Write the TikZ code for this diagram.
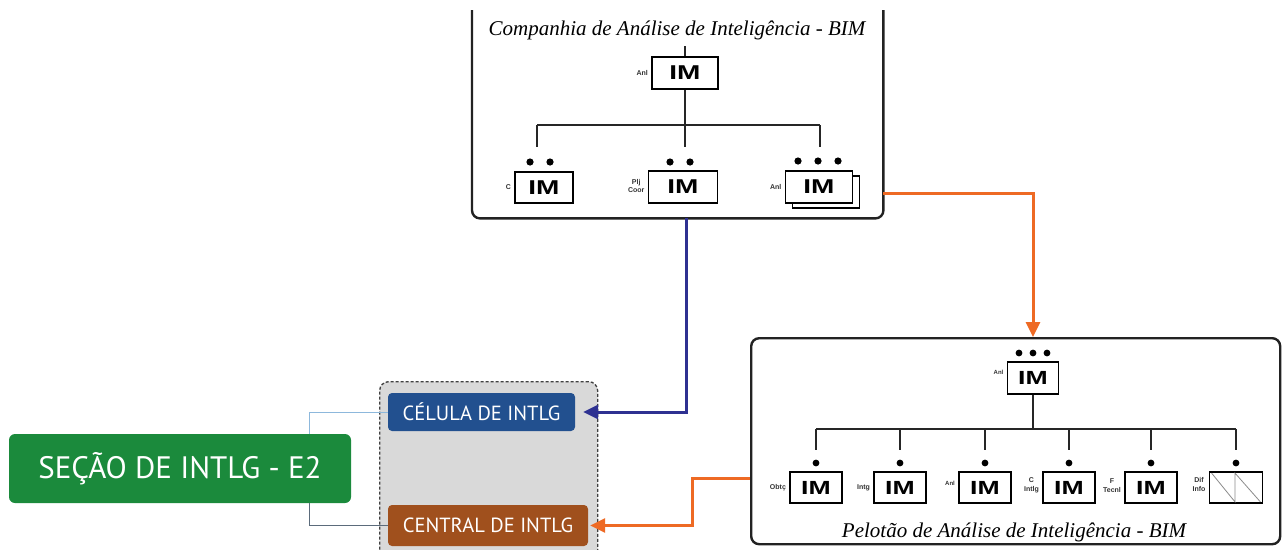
\documentclass[tikz,border=0pt]{standalone}
\usepackage{graphicx}
\usepackage{fontspec}
\setmainfont{Liberation Serif}
\newfontfamily\boxsans{Liberation Sans}
\newfontfamily\capsans{PT Sans}
\usetikzlibrary{arrows.meta,calc}

\definecolor{framec}{HTML}{222222}
\definecolor{tagc}{HTML}{333333}
\definecolor{arrblue}{HTML}{2E3191}
\definecolor{arrorange}{HTML}{EE6A24}
\definecolor{secgreen}{HTML}{1B8A3C}
\definecolor{celblue}{HTML}{22508F}
\definecolor{cenbrown}{HTML}{A0501D}
\definecolor{grpfill}{HTML}{D9D9D9}
\definecolor{linkblue}{HTML}{8DB8DC}
\definecolor{linkgray}{HTML}{5B6B7B}

\newcommand\imtext{\scalebox{1.4}[1]{IM}}

\begin{document}
\begin{tikzpicture}[x=1pt,y=-1pt,
  frame/.style={draw=framec, line width=2.4pt, rounded corners=8pt},
  imbox/.style={draw=black, line width=1.8pt, fill=white, inner sep=0pt,
    minimum width=#1, minimum height=31pt,
    font=\boxsans\bfseries\fontsize{20}{20}\selectfont},
  tag/.style={font=\boxsans\bfseries\fontsize{7}{7.5}\selectfont, text=tagc,
    align=center, inner sep=0pt, anchor=east},
  orgline/.style={draw=black!85, line width=1.3pt},
  ttl/.style={font=\itshape\fontsize{21}{21}\selectfont, text=black},
  arrowb/.style={draw=arrblue, line width=3pt, -{Triangle[length=15pt,width=14pt]}},
  arrowo/.style={draw=arrorange, line width=3pt, -{Triangle[length=15pt,width=14pt]}},
  unit/.style={rounded corners=4pt, inner sep=0pt, text=white,
    font=\capsans\fontsize{20.5}{20.5}\selectfont},
]
\useasboundingbox (0,0) rectangle (1282,549);

% ---------- Companhia de Análise de Inteligência ----------
\node (cia) [anchor=north west, minimum width=411pt, minimum height=208pt, inner sep=0pt] at (472,10) {};
\draw[frame] (cia.north west) -- (cia.south west) -- (cia.south east) -- (cia.north east);
\node (ciattl) [ttl] at (677,30) {Companhia de Análise de Inteligência - BIM};

\node (tanl) [imbox=66pt, minimum height=32pt] at (685,73) {\imtext};
\node [tag] at ([xshift=-3pt]tanl.west) {Anl};
\coordinate (ttop) at (685,46);
\draw[orgline] (ttop) -- (tanl.north);

\coordinate (tbus) at (685,125);
\coordinate (tbl) at (537,125);
\coordinate (tbr) at (820,125);
\draw[orgline] (tanl.south) -- (tbus);
\draw[orgline] (tbl) -- (tbr);
\draw[orgline] (tbl) -- ++(0,22);
\draw[orgline] (tbus) -- ++(0,22);
\draw[orgline] (tbr) -- ++(0,22);

\node (tc) [imbox=58pt] at (544,187.5) {\imtext};
\node [tag] at ([xshift=-3pt]tc.west) {C};
\fill (530,162) circle (3.6pt) (550,162) circle (3.6pt);

\node (tp) [imbox=69pt, minimum height=32pt] at (683,187) {\imtext};
\node [tag] at ([xshift=-3pt,yshift=1pt]tp.west) {Plj\\[1pt]Coor};
\fill (670,162) circle (3.6pt) (690,162) circle (3.6pt);

\node (tash) [imbox=67pt, minimum height=32pt] at (826,192) {};
\node (ta) [imbox=67pt, minimum height=32pt] at (819,187) {\imtext};
\node [tag] at ([xshift=-3pt]ta.west) {Anl};
\fill (798,161) circle (3.6pt) (818,161) circle (3.6pt) (838,161) circle (3.6pt);

% ---------- Pelotão de Análise de Inteligência ----------
\node (pel) [frame, anchor=north west, minimum width=529pt, minimum height=206pt, inner sep=0pt] at (750,337) {};
\node (pelttl) [ttl] at (1014,532) {Pelotão de Análise de Inteligência - BIM};

\node (panl) [imbox=51pt, minimum height=32pt, font=\boxsans\bfseries\fontsize{19}{19}\selectfont] at (1033,378) {\imtext};
\node [tag, font=\boxsans\bfseries\fontsize{6}{6.5}\selectfont] at ([xshift=-3pt,yshift=6pt]panl.west) {Anl};
\fill (1019,353) circle (3.4pt) (1033,353) circle (3.4pt) (1047,353) circle (3.4pt);

\coordinate (pbus) at (1033,429);
\coordinate (pbl) at (816,429);
\coordinate (pbr) at (1236,429);
\draw[orgline] (panl.south) -- (pbus);
\draw[orgline] (pbl) -- (pbr);
\foreach \x in {816,900,985,1069,1151,1236}{
  \draw[orgline] (\x,429) -- (\x,450);
  \fill (\x,463) circle (3.4pt);
}

\tikzset{pbox/.style={imbox=52pt, font=\boxsans\bfseries\fontsize{19}{19}\selectfont}}
\node (p1) [pbox] at (816,487.5) {\imtext};
\node (p2) [pbox] at (900,487.5) {\imtext};
\node (p3) [pbox] at (985,487.5) {\imtext};
\node (p4) [pbox] at (1069,487.5) {\imtext};
\node (p5) [pbox] at (1151,487.5) {\imtext};
\node (p6) [pbox, minimum width=53pt] at (1236,487.5) {};
\draw[draw=black!45, line width=0.8pt]
  ([shift={(3pt,-2pt)}]p6.north west) -- ([xshift=-1pt,yshift=2pt]p6.south) --
  ([xshift=-1pt,yshift=-2pt]p6.north) -- ([shift={(-3pt,2pt)}]p6.south east);

\node [tag] at ([xshift=-3pt]p1.west) {Obtç};
\node [tag] at ([xshift=-3pt]p2.west) {Intg};
\node [tag, font=\boxsans\bfseries\fontsize{6}{6.5}\selectfont] at ([xshift=-3pt,yshift=4pt]p3.west) {Anl};
\node [tag] at ([xshift=-3pt,yshift=2pt]p4.west) {C\\[1pt]Intlg};
\node [tag] at ([xshift=-3pt,yshift=2pt]p5.west) {F\\[1pt]Tecnl};
\node [tag] at ([xshift=-3pt,yshift=3pt]p6.west) {Dif\\[1pt]Info};

% ---------- Seção de Inteligência ----------
\node (grp) [fill=grpfill, draw=black!75, dash pattern=on 3pt off 2pt, line width=1.3pt,
  rounded corners=9pt, anchor=north west, minimum width=218pt, minimum height=190pt,
  inner sep=0pt] at (379,381) {};
\node (cel) [unit, fill=celblue, minimum width=187pt, minimum height=38pt] at (481.5,412) {CÉLULA DE INTLG};
\node (cen) [unit, fill=cenbrown, minimum width=200pt, minimum height=41pt] at (488,525.5) {CENTRAL DE INTLG};
\node (sec) [unit, rounded corners=6pt, fill=secgreen, minimum width=342pt, minimum height=69pt,
  font=\capsans\fontsize{31}{31}\selectfont] at (180,468.5) {SEÇÃO DE INTLG - E2};

\draw[linkblue, line width=1pt] ([xshift=129pt]sec.north) |- (cel.west);
\draw[linkgray, line width=1pt] ([xshift=129pt]sec.south) |- (cen.west);

% ---------- connectors ----------
\draw[arrowb] ([xshift=8.5pt]cia.south) |- ([xshift=8pt]cel.east);
\draw[arrowo] ([yshift=25pt]cia.south east) -| (panl |- pel.north);
\draw[arrowo] ([yshift=-37pt]pel.west) -- ++(-58,0) |- ([xshift=2pt]cen.east);
\end{tikzpicture}
\end{document}
